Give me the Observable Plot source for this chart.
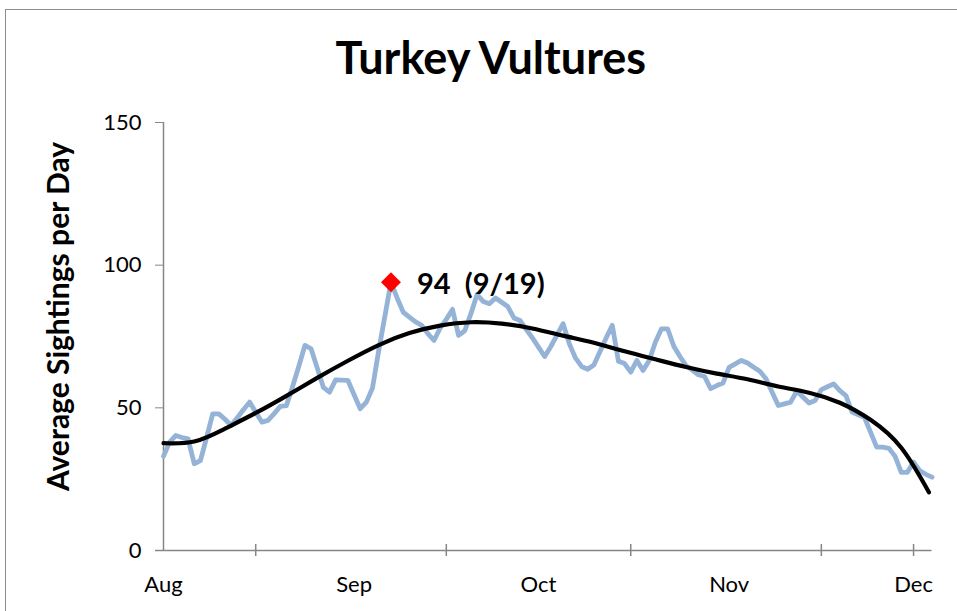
<!DOCTYPE html>
<html><head><meta charset="utf-8">
<script src="https://cdn.jsdelivr.net/npm/d3@7"></script>
<script src="https://cdn.jsdelivr.net/npm/@observablehq/plot@0.6"></script>
<style>
body{margin:0;background:#fff;overflow:hidden}
#wrap{position:relative;width:957px;height:611px;overflow:hidden;background:#fff}
#frame{position:absolute;left:5px;top:9px;width:1200px;height:900px;border:1.5px solid #8c8c8c;box-sizing:border-box}
#chart{position:absolute;left:0;top:0}
</style></head>
<body><div id="wrap"><div id="frame"></div><div id="chart"></div></div>
<script>
// Daily average sightings, day 0 = first day of season (axis starts "Aug")
const sightings = [
  33, 38, 40.3, 39.6, 39.1, 30.4, 31.5, 39.5, 47.9, 47.9,
  46, 43.8, 46.5, 49.3, 52, 48.5, 45, 45.6, 48, 50.5,
  50.8, 57.5, 64.5, 71.9, 70.7, 64, 57.2, 55.5, 59.8, 59.7,
  59.6, 54.6, 49.7, 52, 57, 70, 82, 94, 88.5, 83.5,
  81.8, 80.1, 78.9, 76, 73.6, 78, 81, 84.5, 75.4, 77,
  83, 89.7, 87.3, 86.5, 88.5, 87, 85.5, 81.5, 80.6, 77.5,
  74.5, 71.3, 68, 71.5, 75.5, 79.5, 72.5, 67.5, 64.5, 63.5,
  65, 69.7, 74.5, 78.9, 66.3, 65.5, 62.5, 66.6, 63.1, 66.6,
  73, 77.7, 77.7, 71.6, 68, 64.8, 63.2, 61.6, 61, 56.7,
  57.8, 58.7, 64.2, 65.4, 66.6, 65.7, 64.2, 62.8, 60.2, 55.5,
  50.8, 51.4, 52, 55.8, 53.8, 51.7, 52.6, 56.4, 57.4, 58.4,
  56, 54.3, 48.5, 47.6, 46.7, 41.5, 36.2, 36.2, 35.8, 33,
  27.4, 27.4, 31, 28, 26.7, 25.7
];
// Trend line readings (day, value)
const trendDays = [0, 5, 10, 15, 20, 25, 30, 35, 40, 45, 50, 55, 60, 65, 70, 75, 80, 85, 90, 95, 100, 105, 110, 115, 120, 124.5];
const trendValues = [37.6, 38.2, 42.7, 48.2, 54.2, 60.5, 66.5, 72, 76.2, 78.8, 80, 79.5, 77.8, 75.3, 72.8, 69.8, 67, 64.3, 62, 60, 57.5, 55.3, 51.8, 45.8, 36, 20.4];
// Peak
const peakDay = 37;
const peakValue = 94;
const peakLabel = "94\u00a0\u00a0(9/19)";
// Axis
const monthLabels = ["Aug", "Sep", "Oct", "Nov", "Dec"];
const monthDays = [0, 31, 61, 92, 122];
const tickDays = [15, 46, 76, 107, 122];
const yTicks = [0, 50, 100, 150];

const series = sightings.map((v, i) => ({day: i, value: v}));
const trend = trendDays.map((d, i) => ({day: d, value: trendValues[i]}));
const axisColor = "#868686";

const chart = Plot.plot({
  width: 957, height: 611,
  marginLeft: 163, marginRight: 25.5, marginTop: 122, marginBottom: 61,
  x: {domain: [0, 125], axis: null},
  y: {domain: [0, 150], axis: null},
  style: {fontFamily: "Lato, sans-serif", background: "transparent", overflow: "visible", color: "#000"},
  marks: [
    Plot.axisY(yTicks, {tickSize: 8, tickPadding: 14, fontSize: 22, stroke: axisColor, color: "#000", label: null}),
    Plot.ruleX([0], {y1: 0, y2: 150, stroke: axisColor, strokeWidth: 1.5}),
    Plot.ruleY([0], {x1: -1.3, x2: 125, stroke: axisColor, strokeWidth: 1.5}),
    Plot.ruleX(tickDays, {y1: -2.1, y2: 2.1, stroke: axisColor, strokeWidth: 1.5}),
    Plot.axisX(monthDays, {tickSize: 0, tickPadding: 26, fontSize: 22, tickFormat: (d, i) => monthLabels[i], label: null}),
    Plot.line(series, {x: "day", y: "value", stroke: "#95B3D7", strokeWidth: 4.8, strokeLinejoin: "round"}),
    Plot.line(trend, {x: "day", y: "value", curve: "natural", stroke: "#000", strokeWidth: 4.2}),
    Plot.dot([{day: peakDay, value: peakValue}], {x: "day", y: "value", symbol: "diamond2", r: 9, fill: "#FF0000"}),
    Plot.text([{day: peakDay, value: peakValue}], {x: "day", y: "value", text: () => peakLabel, textAnchor: "start", dx: 26, dy: 2, fontSize: 29, fontWeight: "bold", fill: "#000"}),
    Plot.text(["Turkey Vultures"], {frameAnchor: "top", dx: -57, dy: -49, lineAnchor: "bottom", fontSize: 45, fontWeight: "bold", fill: "#000"}),
    Plot.text(["Average Sightings per Day"], {frameAnchor: "left", dx: -95, dy: -20, rotate: -90, textAnchor: "middle", lineAnchor: "bottom", fontSize: 30, fontWeight: "bold", fill: "#000"})
  ]
});
document.getElementById("chart").appendChild(chart);
</script></body></html>
